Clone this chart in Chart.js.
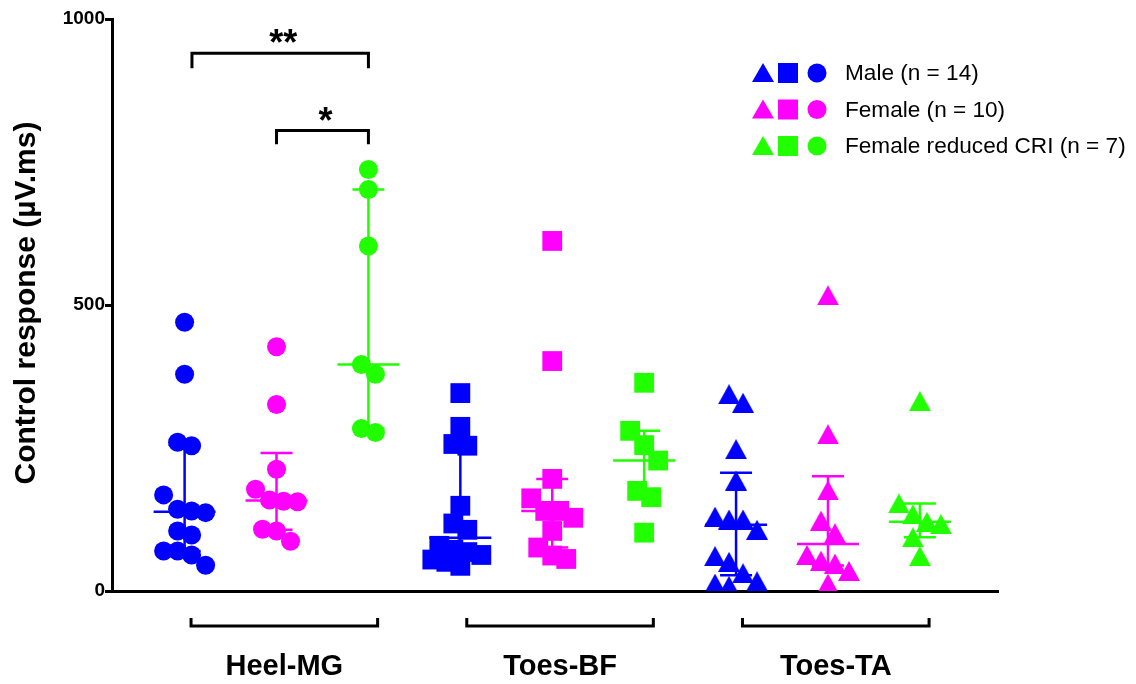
<!DOCTYPE html>
<html>
<head>
<meta charset="utf-8">
<script src="https://cdn.jsdelivr.net/npm/chart.js@4.4.1/dist/chart.umd.min.js"></script>
<style>
  html, body { margin: 0; padding: 0; background: #fff; }
  #wrap { width: 1136px; height: 684px; }
</style>
</head>
<body>
<div id="wrap"><canvas id="chart"></canvas></div>
<script>
const groups = ["Heel-MG", "Toes-BF", "Toes-TA"];
const seriesNames = ["Male (n = 14)", "Female (n = 10)", "Female reduced CRI (n = 7)"];
const seriesColors = ["#0000ff", "#ff00ff", "#22ff00"];
const yTicks = [0, 500, 1000];
const yTitle = "Control response (µV.ms)";

// control responses per subject, µV.ms
const heelMale = [470, 379, 260, 254, 168, 143, 140, 137, 105, 98, 70, 70, 63, 45];
const heelFemale = [427, 326, 213, 178, 159, 157, 156, 108, 105, 87];
const heelReduced = [737, 702, 603, 396, 379, 284, 277];
const bfMale = [346, 287, 257, 254, 149, 118, 107, 79, 72, 68, 63, 55, 51, 44];
const bfFemale = [612, 402, 196, 162, 140, 140, 128, 105, 76, 62, 56];
const bfReduced = [364, 280, 255, 228, 175, 164, 102];
const taMale = [344, 329, 248, 193, 130, 125, 125, 107, 61, 51, 31, 17, 13, 9];
const taFemale = [517, 274, 176, 123, 101, 63, 53, 48, 35, 13];
const taReduced = [332, 153, 134, 121, 117, 94, 61];

const groupValues = [
  [heelMale, heelFemale, heelReduced],
  [bfMale, bfFemale, bfReduced],
  [taMale, taFemale, taReduced],
];

// comparisons within Heel-MG (series index -> series index)
const sigBrackets = [
  { from: 0, to: 2, label: "**" },
  { from: 1, to: 2, label: "*" },
];

const FONT = '"Liberation Sans", Arial, sans-serif';

const makeTriangle = (color) => {
  const c = document.createElement("canvas");
  c.width = 22;
  c.height = 20;
  const t = c.getContext("2d");
  t.fillStyle = color;
  t.beginPath();
  t.moveTo(11, 0);
  t.lineTo(22, 20);
  t.lineTo(0, 20);
  t.closePath();
  t.fill();
  return c;
};
const triangles = seriesColors.map(makeTriangle);

const quantile = (sorted, p) => {
  const n = sorted.length;
  let pos = (n + 1) * p;
  pos = Math.min(Math.max(pos, 1), n);
  const lo = Math.floor(pos);
  const hi = Math.ceil(pos);
  return sorted[lo - 1] + (pos - lo) * (sorted[hi - 1] - sorted[lo - 1]);
};

const datasets = [];
groups.forEach((g, gi) => {
  seriesNames.forEach((s, si) => {
    const pos = gi * 3 + si;
    const r = gi === 0 ? 9.5 : gi === 1 ? 14 : 11;
    datasets.push({
      label: s,
      center: pos,
      data: groupValues[gi][si].map((v) => ({ x: pos, y: v })),
      pointStyle: gi === 0 ? "circle" : gi === 1 ? "rect" : triangles[si],
      pointRadius: r,
      pointHoverRadius: r,
      pointBorderWidth: 0,
      backgroundColor: seriesColors[si],
      borderColor: seriesColors[si],
      showLine: false,
    });
  });
});

// median with interquartile range, drawn over the points
const errorBars = {
  id: "errorBars",
  afterDatasetsDraw(chart) {
    const ctx = chart.ctx;
    const xs = chart.scales.x;
    const ys = chart.scales.y;
    chart.data.datasets.forEach((ds) => {
      const sorted = ds.data.map((d) => d.y).sort((a, b) => a - b);
      const med = ys.getPixelForValue(quantile(sorted, 0.5));
      const q1 = ys.getPixelForValue(quantile(sorted, 0.25));
      const q3 = ys.getPixelForValue(quantile(sorted, 0.75));
      const cx = xs.getPixelForValue(ds.center);
      ctx.save();
      ctx.strokeStyle = ds.backgroundColor;
      ctx.lineWidth = 2.5;
      ctx.beginPath();
      ctx.moveTo(cx, q1);
      ctx.lineTo(cx, q3);
      ctx.moveTo(cx - 31, med);
      ctx.lineTo(cx + 31, med);
      ctx.moveTo(cx - 16, q1);
      ctx.lineTo(cx + 16, q1);
      ctx.moveTo(cx - 16, q3);
      ctx.lineTo(cx + 16, q3);
      ctx.stroke();
      ctx.restore();
    });
  },
};

const drawMarker = (ctx, kind, x, y, color) => {
  ctx.fillStyle = color;
  ctx.beginPath();
  if (kind === 0) {
    ctx.moveTo(x, y - 10);
    ctx.lineTo(x + 11, y + 9);
    ctx.lineTo(x - 11, y + 9);
    ctx.closePath();
  } else if (kind === 1) {
    ctx.rect(x - 10, y - 10, 20, 20);
  } else {
    ctx.arc(x, y, 9.5, 0, Math.PI * 2);
  }
  ctx.fill();
};

const annotations = {
  id: "annotations",
  afterDraw(chart) {
    const ctx = chart.ctx;
    const xs = chart.scales.x;
    const ys = chart.scales.y;
    const area = chart.chartArea;
    ctx.save();
    ctx.strokeStyle = "#000";
    ctx.fillStyle = "#000";
    ctx.lineWidth = 3;

    // significance brackets above Heel-MG
    const levels = [
      { top: 940, drop: 26 },
      { top: 805, drop: 24 },
    ];
    sigBrackets.forEach((b, i) => {
      const lv = levels[i];
      const x1 = xs.getPixelForValue(b.from + (b.from === 0 ? 0.08 : 0));
      const x2 = xs.getPixelForValue(b.to);
      const yTop = ys.getPixelForValue(lv.top);
      const yEnd = ys.getPixelForValue(lv.top - lv.drop);
      ctx.beginPath();
      ctx.moveTo(x1, yEnd);
      ctx.lineTo(x1, yTop);
      ctx.lineTo(x2, yTop);
      ctx.lineTo(x2, yEnd);
      ctx.stroke();
      ctx.font = "bold 36px " + FONT;
      ctx.textAlign = "center";
      ctx.textBaseline = "alphabetic";
      ctx.fillText(b.label, (x1 + x2) / 2 + 3, yTop + 2);
    });

    // group brackets and names under the x axis
    groups.forEach((g, gi) => {
      const x1 = xs.getPixelForValue(gi * 3 + 0.07);
      const x2 = xs.getPixelForValue(gi * 3 + 2.1);
      const yb = area.bottom + 35;
      ctx.lineWidth = 3;
      ctx.beginPath();
      ctx.moveTo(x1, yb - 8);
      ctx.lineTo(x1, yb);
      ctx.lineTo(x2, yb);
      ctx.lineTo(x2, yb - 8);
      ctx.stroke();
      ctx.font = "bold 29px " + FONT;
      ctx.textAlign = "center";
      ctx.textBaseline = "middle";
      ctx.fillText(g, (x1 + x2) / 2, area.bottom + 76);
    });

    // y axis title
    ctx.save();
    ctx.translate(27, 303);
    ctx.rotate(-Math.PI / 2);
    ctx.font = "bold 30px " + FONT;
    ctx.textAlign = "center";
    ctx.textBaseline = "middle";
    ctx.fillText(yTitle, 0, 0);
    ctx.restore();

    // legend: one row per series with all three marker shapes
    seriesNames.forEach((name, si) => {
      const y = 73 + si * 36.5;
      drawMarker(ctx, 0, 763, y, seriesColors[si]);
      drawMarker(ctx, 1, 788, y, seriesColors[si]);
      drawMarker(ctx, 2, 817, y, seriesColors[si]);
      ctx.fillStyle = "#000";
      ctx.font = "22.6px " + FONT;
      ctx.textAlign = "left";
      ctx.textBaseline = "middle";
      ctx.fillText(name, 845, y + 1);
    });
    ctx.restore();
  },
};

const chart = new Chart(document.getElementById("chart"), {
  type: "scatter",
  data: { datasets: datasets },
  options: {
    responsive: true,
    maintainAspectRatio: false,
    animation: false,
    events: [],
    layout: { padding: { left: 0, top: 19, right: 138, bottom: 93 } },
    plugins: { legend: { display: false }, tooltip: { enabled: false } },
    scales: {
      x: {
        type: "linear",
        min: -0.79,
        max: 8.85,
        ticks: { display: false },
        grid: { display: false },
        border: { display: true, width: 3, color: "#000" },
        afterFit: (s) => { s.height = 0; },
      },
      y: {
        min: 0,
        max: 1000,
        afterBuildTicks: (s) => { s.ticks = yTicks.map((v) => ({ value: v })); },
        ticks: {
          font: { family: FONT, size: 19, weight: "bold" },
          color: "#000",
          padding: 0,
          callback: (v) => String(v),
        },
        grid: { drawOnChartArea: false, drawTicks: true, tickLength: 7, tickWidth: 3, tickColor: "#000" },
        border: { display: true, width: 3, color: "#000" },
        afterFit: (s) => { s.width = 112; },
      },
    },
  },
  plugins: [errorBars, annotations],
});

// points with close values share a row (at most 4) and sit side by side;
// a row is nudged sideways when it would land on the row above
const spread = () => {
  const xs = chart.scales.x;
  const ys = chart.scales.y;
  chart.data.datasets.forEach((ds) => {
    const cx = xs.getPixelForValue(ds.center);
    const pts = ds.data
      .map((d) => ({ d, py: ys.getPixelForValue(d.y) }))
      .sort((a, b) => a.py - b.py);
    const rows = [];
    pts.forEach((p) => {
      const row = rows[rows.length - 1];
      if (row && row.length < 4 && p.py - row[row.length - 1].py < 16) row.push(p);
      else rows.push([p]);
    });
    const placed = [];
    rows.forEach((row) => {
      const n = row.length;
      let best = null;
      for (const shift of [0, 7, -7, 14, -14]) {
        let minD = Infinity;
        row.forEach((p, i) => {
          const dx = (i - (n - 1) / 2) * 14 + shift;
          placed.forEach((q) => {
            minD = Math.min(minD, Math.hypot(dx - q.dx, p.py - q.py));
          });
        });
        if (!best || minD > best.minD) best = { shift, minD };
        if (minD >= 17) {
          best = { shift, minD };
          break;
        }
      }
      row.forEach((p, i) => {
        const dx = (i - (n - 1) / 2) * 14 + best.shift;
        placed.push({ dx, py: p.py });
        p.d.x = xs.getValueForPixel(cx + dx);
      });
    });
  });
  chart.update("none");
};
spread();
</script>
</body>
</html>
